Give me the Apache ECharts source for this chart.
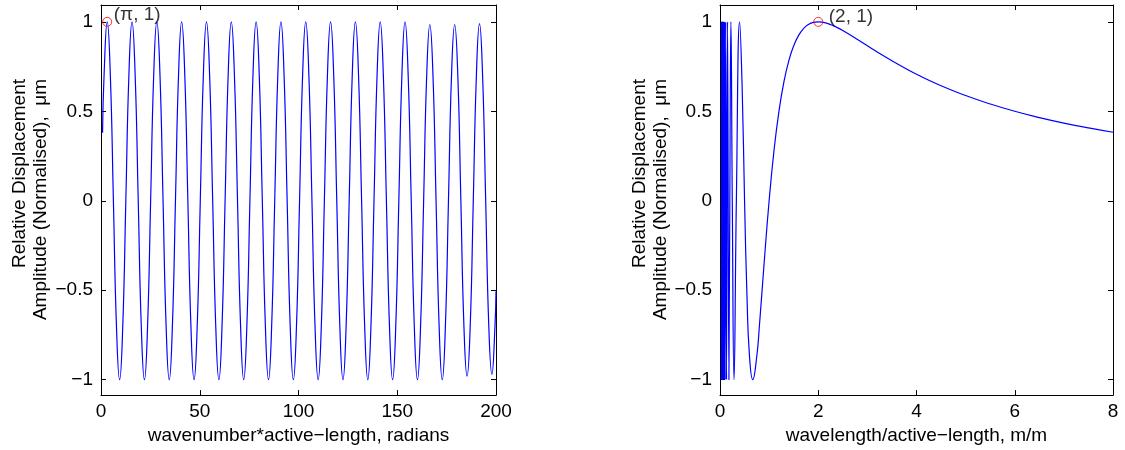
<!DOCTYPE html>
<html>
<head>
<meta charset="utf-8">
<script src="https://cdn.jsdelivr.net/npm/echarts@6/dist/echarts.min.js"></script>
<style>
html,body{margin:0;padding:0;background:#fff;}
#chart{width:1125px;height:450px;}
</style>
</head>
<body>
<div id="chart"></div>
<script>
// ---- Left panel: wavenumber*active-length (radians) vs normalised amplitude
const kl = [0.785,
 1.57, 3.14, 4.71, 6.28, 7.85, 9.42, 11.00, 12.57,
 14.14, 15.71, 17.28, 18.85, 20.42, 21.99, 23.56, 25.13,
 26.70, 28.27, 29.85, 31.42, 32.99, 34.56, 36.13, 37.70,
 39.27, 40.84, 42.41, 43.98, 45.55, 47.12, 48.69, 50.27,
 51.84, 53.41, 54.98, 56.55, 58.12, 59.69, 61.26, 62.83,
 64.40, 65.97, 67.54, 69.12, 70.69, 72.26, 73.83, 75.40,
 76.97, 78.54, 80.11, 81.68, 83.25, 84.82, 86.39, 87.96,
 89.54, 91.11, 92.68, 94.25, 95.82, 97.39, 98.96, 100.53,
 102.10, 103.67, 105.24, 106.81, 108.38, 109.96, 111.53, 113.10,
 114.67, 116.24, 117.81, 119.38, 120.95, 122.52, 124.09, 125.66,
 127.23, 128.81, 130.38, 131.95, 133.52, 135.09, 136.66, 138.23,
 139.80, 141.37, 142.94, 144.51, 146.08, 147.65, 149.23, 150.80,
 152.37, 153.94, 155.51, 157.08, 158.65, 160.22, 161.79, 163.36,
 164.93, 166.50, 168.07, 169.65, 171.22, 172.79, 174.36, 175.93,
 177.50, 179.07, 180.64, 182.21, 183.78, 185.35, 186.92, 188.50,
 190.07, 191.64, 193.21, 194.78, 196.35, 197.92, 199.49,
 200];
const ampLeft = [0.38,
 0.707, 1, 0.707, 0, -0.707, -1, -0.707, 0,
 0.707, 1, 0.707, 0, -0.707, -1, -0.707, 0,
 0.707, 1, 0.707, 0, -0.707, -1, -0.707, 0,
 0.707, 1, 0.707, 0, -0.707, -1, -0.707, 0,
 0.707, 1, 0.707, 0, -0.707, -1, -0.707, 0,
 0.707, 1, 0.707, 0, -0.707, -1, -0.707, 0,
 0.707, 1, 0.707, 0, -0.707, -1, -0.707, 0,
 0.707, 1, 0.707, 0, -0.707, -1, -0.707, 0,
 0.707, 1, 0.707, 0, -0.707, -1, -0.707, 0,
 0.707, 1, 0.707, 0, -0.707, -1, -0.707, 0,
 0.707, 1, 0.707, 0, -0.707, -1, -0.707, 0,
 0.707, 1, 0.707, 0, -0.707, -1, -0.707, 0,
 0.707, 1, 0.707, 0, -0.707, -1, -0.707, 0,
 0.707, 0.985, 0.707, 0, -0.707, -1, -0.707, 0,
 0.707, 0.985, 0.707, 0, -0.707, -0.98, -0.707, 0,
 0.70, 0.99, 0.70, 0, -0.70, -0.97, -0.70,
 -0.506];

// ---- Right panel: wavelength/active-length (m/m) vs normalised amplitude
const ratio = [0.0314, 0.0317, 0.0328, 0.0339, 0.0351, 0.0364, 0.0377, 0.0392, 0.0408,
 0.0426, 0.0444, 0.0465, 0.0488, 0.0513, 0.0541, 0.0571, 0.0606, 0.0645, 0.069,
 0.0741, 0.08, 0.087, 0.0952, 0.1053, 0.1176, 0.1333, 0.1538, 0.1818, 0.2,
 0.2222, 0.25, 0.2857, 0.333, 0.4, 0.45, 0.5, 0.55, 0.6, 0.667,
 0.75, 0.8, 0.9, 1.0, 1.1, 1.2, 1.3, 1.4, 1.5, 1.6, 1.7, 1.8, 1.9, 2.0,
 2.1, 2.2, 2.3, 2.4, 2.5, 2.75, 3.0, 3.25, 3.5, 3.75, 4.0,
 4.5, 5.0, 5.5, 6.0, 6.5, 7.0, 7.5, 8.0];
const ampRight = [-0.506, -1, 1, -1, 1, -1, 1, -1, 1,
 -1, 1, -1, 1, -1, 1, -1, 1, -1, 1,
 -1, 1, -1, 1, -1, 1, -1, 1, -1, 0,
 1, 0, -1, 0, 1, 0.643, 0, -0.541, -0.866, -1,
 -0.866, -0.707, -0.342, 0, 0.282, 0.5, 0.663, 0.782, 0.866, 0.924, 0.962, 0.985, 0.997, 1,
 0.997, 0.990, 0.979, 0.966, 0.951, 0.910, 0.866, 0.823, 0.782, 0.743, 0.707,
 0.643, 0.588, 0.541, 0.5, 0.465, 0.434, 0.407, 0.383];

// ---- Highlighted points
const markLeftX = [3.1416], markLeftY = [1], markLeftText = ['(π, 1)'];
const markRightX = [2], markRightY = [1], markRightText = ['(2, 1)'];

// ---- Ticks and labels
const xTicksLeft = [0, 50, 100, 150, 200];
const xTicksRight = [0, 2, 4, 6, 8];
const yTicks = [-1, -0.5, 0, 0.5, 1];
const xTitleLeft = 'wavenumber*active\u2212length, radians';
const xTitleRight = 'wavelength/active\u2212length, m/m';
const yTitle = 'Relative Displacement\nAmplitude (Normalised),  \u03bcm';

const FONT = '"Liberation Sans", Arial, Helvetica, sans-serif';
const FS = 19;
const fmt = v => String(v).replace('-', '\u2212');

function zip(xs, ys){ return xs.map((x, i) => [x, ys[i]]); }

function xAxisPair(grid, ticks, title){
  const base = {
    gridIndex: grid, type: 'value',
    min: ticks[0], max: ticks[ticks.length-1], interval: ticks[1]-ticks[0],
    axisLine: {show: true, onZero: false, lineStyle: {color: '#000', width: 1}},
    axisTick: {show: true, inside: true, length: 5, lineStyle: {color: '#000', width: 1}},
    splitLine: {show: false}
  };
  return [
    Object.assign({}, base, {
      position: 'bottom',
      axisLabel: {show: true, fontSize: FS, fontFamily: FONT, color: '#000', margin: 7, formatter: fmt},
      name: title, nameLocation: 'middle', nameGap: 27,
      nameTextStyle: {fontSize: FS, fontFamily: FONT, color: '#000'}
    }),
    Object.assign({}, base, {position: 'top', axisLabel: {show: false}})
  ];
}
function yAxisPair(grid){
  const base = {
    gridIndex: grid, type: 'value', min: -1.086, max: 1.094,
    axisLine: {show: true, onZero: false, lineStyle: {color: '#000', width: 1}},
    axisTick: {show: true, inside: true, length: 5, customValues: yTicks, lineStyle: {color: '#000', width: 1}},
    splitLine: {show: false}
  };
  return [
    Object.assign({}, base, {
      position: 'left',
      axisLabel: {show: true, customValues: yTicks, fontSize: FS, fontFamily: FONT, color: '#000', margin: 8, formatter: fmt}
    }),
    Object.assign({}, base, {position: 'right', axisLabel: {show: false}})
  ];
}

function markerSeries(xi, yi, xs, ys, texts, offset){
  return {
    type: 'scatter', xAxisIndex: xi, yAxisIndex: yi, z: 5,
    data: zip(xs, ys), symbol: 'circle', symbolSize: 9,
    itemStyle: {color: 'rgba(0,0,0,0)', borderColor: '#ff0000', borderWidth: 1},
    label: {show: true, position: 'right', offset: offset,
      formatter: p => texts[p.dataIndex],
      fontSize: FS, fontFamily: FONT, color: '#000'},
    emphasis: {disabled: true}, silent: true
  };
}

const chart = echarts.init(document.getElementById('chart'), null, {renderer: 'canvas'});
chart.setOption({
  animation: false,
  backgroundColor: '#fff',
  grid: [
    {left: 101, right: 629, top: 5, bottom: 52},
    {left: 720, right: 12, top: 5, bottom: 52}
  ],
  xAxis: [].concat(xAxisPair(0, xTicksLeft, xTitleLeft), xAxisPair(1, xTicksRight, xTitleRight)),
  yAxis: [].concat(yAxisPair(0), yAxisPair(1)),
  graphic: [
    {type: 'text', x: 30, y: 79, rotation: Math.PI/2, silent: true,
     style: {text: yTitle, font: FS + 'px ' + FONT, fill: '#000', align: 'right', textAlign: 'right',
             verticalAlign: 'middle', textVerticalAlign: 'middle', lineHeight: 21}},
    {type: 'text', x: 650, y: 79, rotation: Math.PI/2, silent: true,
     style: {text: yTitle, font: FS + 'px ' + FONT, fill: '#000', align: 'right', textAlign: 'right',
             verticalAlign: 'middle', textVerticalAlign: 'middle', lineHeight: 21}}
  ],
  series: [
    {type: 'line', xAxisIndex: 0, yAxisIndex: 0, data: zip(kl, ampLeft),
     showSymbol: false, smooth: true, clip: true,
     lineStyle: {color: '#0000ff', width: 1.2}, itemStyle: {color: '#0000ff'}, silent: true},
    {type: 'line', xAxisIndex: 2, yAxisIndex: 2, data: zip(ratio, ampRight),
     showSymbol: false, smooth: true, clip: true,
     lineStyle: {color: '#0000ff', width: 1.2}, itemStyle: {color: '#0000ff'}, silent: true},
    markerSeries(0, 0, markLeftX, markLeftY, markLeftText, [-3.5, -7]),
    markerSeries(2, 2, markRightX, markRightY, markRightText, [0.5, -5.5])
  ]
});
</script>
</body>
</html>
